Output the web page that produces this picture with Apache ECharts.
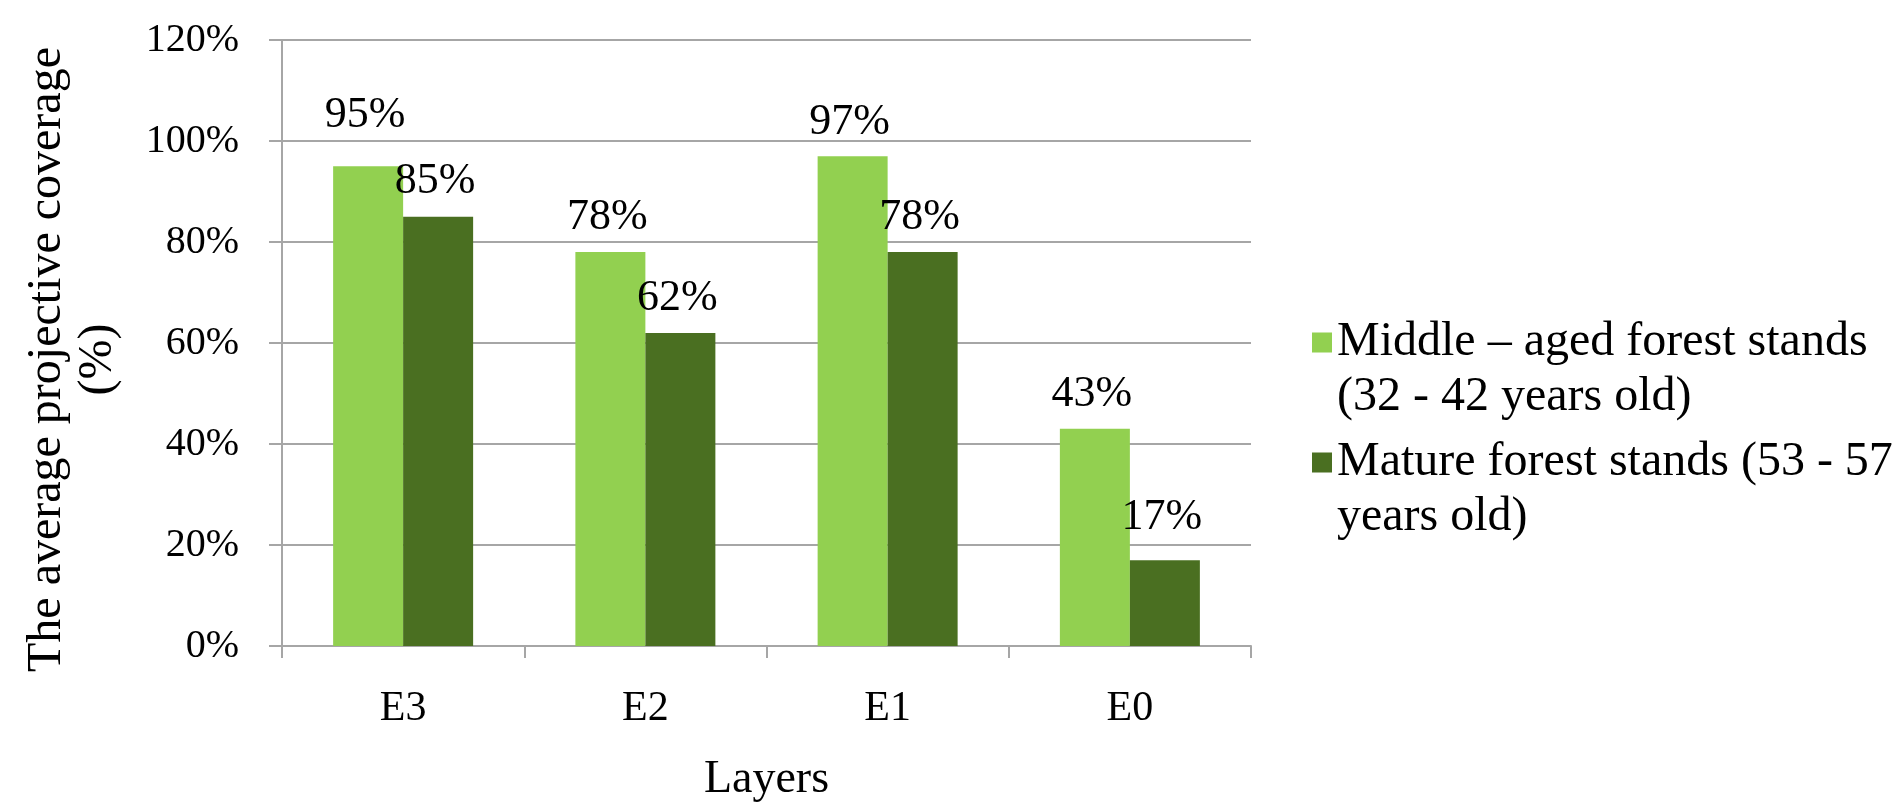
<!DOCTYPE html>
<html lang="en">
<head>
    <meta charset="UTF-8">
    <title>Average projective coverage by layer</title>
    <script src="https://cdn.jsdelivr.net/npm/echarts@6/dist/echarts.min.js"></script>
    <style>
        html, body {
            margin: 0;
            padding: 0;
            background: #fff;
        }
        #main {
            width: 1897px;
            height: 808px;
        }
    </style>
</head>
<body>
    <div id="main"></div>

    <script>
        // data
        const layers = ['E3', 'E2', 'E1', 'E0'];
        const middleAged = [95, 78, 97, 43];
        const mature = [85, 62, 78, 17];
        const seriesNames = [
            'Middle – aged forest stands (32 - 42 years old)',
            'Mature forest stands (53 - 57 years old)'
        ];
        const legendLines = {};
        legendLines[seriesNames[0]] = 'Middle – aged forest stands\n(32 - 42 years old)';
        legendLines[seriesNames[1]] = 'Mature forest stands (53 - 57\nyears old)';

        // the value labels sit at slightly different heights in the original
        const middleGap = [29, 13, 12, 12];
        const matureGap = [13, 12, 13, 21];

        const serif = "'Liberation Serif', 'Times New Roman', serif";
        const gray = '#a6a6a6';

        function withLabels(values, gaps) {
            return values.map(function (v, i) {
                return { value: v, label: { distance: gaps[i] } };
            });
        }

        var chartDom = document.getElementById('main');
        var myChart = echarts.init(chartDom);

        var labelStyle = {
            show: true,
            position: 'top',
            formatter: '{c}%',
            color: '#000',
            fontFamily: serif,
            fontSize: 44,
            offset: [-3, 0]
        };

        var option = {
            animation: false,
            grid: {
                left: 282,
                right: 646,
                top: 40,
                bottom: 161
            },
            legend: {
                orient: 'vertical',
                left: 1307,
                top: 310,
                itemWidth: 20,
                itemHeight: 75,
                itemGap: 10,
                // square sits at the top so it lines up with the first text line
                icon: 'path://M0,0H20V20H0Z M0,75L0,75',
                textStyle: {
                    fontFamily: serif,
                    fontSize: 48,
                    lineHeight: 55,
                    color: '#000'
                },
                formatter: function (name) {
                    return legendLines[name];
                },
                data: seriesNames
            },
            xAxis: {
                type: 'category',
                data: layers,
                name: 'Layers',
                nameLocation: 'middle',
                nameGap: 111,
                nameTextStyle: {
                    fontFamily: serif,
                    fontSize: 46,
                    color: '#000'
                },
                axisLine: { lineStyle: { color: gray, width: 2 } },
                axisTick: { show: true, length: 12, lineStyle: { color: gray, width: 2 } },
                axisLabel: {
                    margin: 42,
                    fontFamily: serif,
                    fontSize: 42,
                    color: '#000'
                }
            },
            yAxis: {
                type: 'value',
                min: 0,
                max: 120,
                interval: 20,
                name: 'The average projective coverage\n(%)',
                nameLocation: 'middle',
                nameGap: 158,
                nameTextStyle: {
                    fontFamily: serif,
                    fontSize: 48,
                    lineHeight: 51,
                    color: '#000',
                    align: 'center',
                    padding: [0, 33, 0, 0]
                },
                axisLine: { show: true, lineStyle: { color: gray, width: 2 } },
                axisTick: { show: true, length: 13, lineStyle: { color: gray, width: 2 } },
                splitLine: { lineStyle: { color: gray, width: 2 } },
                axisLabel: {
                    margin: 43,
                    formatter: '{value}%',
                    fontFamily: serif,
                    fontSize: 40,
                    color: '#000'
                }
            },
            series: [
                {
                    name: seriesNames[0],
                    type: 'bar',
                    barWidth: 70,
                    barGap: 0,
                    itemStyle: { color: '#92d050' },
                    label: labelStyle,
                    data: withLabels(middleAged, middleGap)
                },
                {
                    name: seriesNames[1],
                    type: 'bar',
                    barWidth: 70,
                    barGap: 0,
                    itemStyle: { color: '#4a6f21' },
                    label: labelStyle,
                    data: withLabels(mature, matureGap)
                }
            ]
        };

        option && myChart.setOption(option);
    </script>
</body>
</html>
